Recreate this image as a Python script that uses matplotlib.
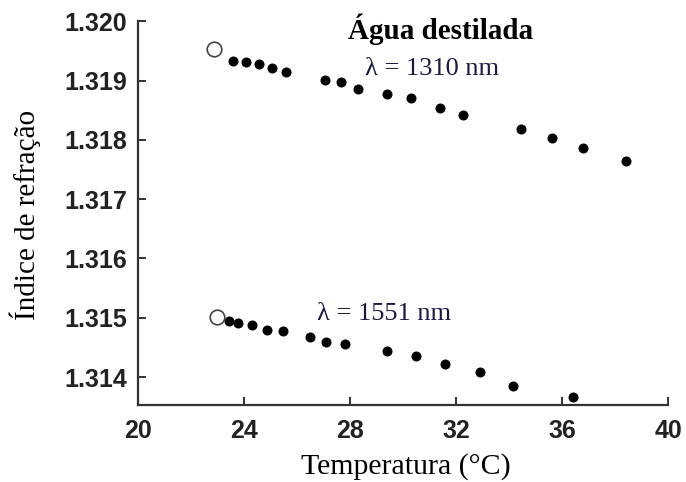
import matplotlib.pyplot as plt

# lambda = 1310 nm
t_1310 = [23.58, 24.08, 24.57, 25.06, 25.58, 27.06, 27.66, 28.30, 29.40, 30.30,
          31.40, 32.26, 34.45, 35.62, 36.79, 38.42]
n_1310 = [1.31933, 1.31931, 1.31928, 1.31921, 1.31914, 1.31901, 1.31897, 1.31886,
          1.31877, 1.31871, 1.31854, 1.31842, 1.31818, 1.31803, 1.31787, 1.31765]
# lambda = 1551 nm
t_1551 = [23.43, 23.77, 24.30, 24.87, 25.47, 26.49, 27.09, 27.81, 29.40, 30.49,
          31.58, 32.91, 34.15, 36.42]
n_1551 = [1.31494, 1.31491, 1.31487, 1.31479, 1.31477, 1.31467, 1.31459, 1.31455,
          1.31444, 1.31435, 1.31422, 1.31408, 1.31385, 1.31366]
# open circles (first reading)
t_open = [22.87, 22.98]
n_open = [1.31953, 1.31501]

xticks = [20, 24, 28, 32, 36, 40]
yticks = [1.314, 1.315, 1.316, 1.317, 1.318, 1.319, 1.320]

fig = plt.figure(figsize=(6.86, 4.82), dpi=100)
ax = fig.add_axes([0.201, 0.160, 0.773, 0.796])

ax.plot(t_1310, n_1310, 'o', color='black', markersize=6.2)
ax.plot(t_1551, n_1551, 'o', color='black', markersize=6.2)
ax.plot(t_open, n_open, 'o', mfc='white', mec='#444444', mew=1.2, markersize=10.5)

ax.set_xlim(20, 40)
ax.set_ylim(1.31353, 1.320)
ax.set_xticks(xticks)
ax.set_yticks(yticks)
ax.set_xticklabels([str(v) for v in xticks])
ax.set_yticklabels(['%.3f' % v for v in yticks])

for s in ['top', 'right']:
    ax.spines[s].set_visible(False)
for s in ['left', 'bottom']:
    ax.spines[s].set_linewidth(1.6)
    ax.spines[s].set_color('#333333')
ax.tick_params(direction='in', length=6, width=1.4, color='#333333')
ax.tick_params(axis='y', pad=8)
ax.tick_params(axis='x', pad=10)
for lab in ax.get_xticklabels() + ax.get_yticklabels():
    lab.set_family('Liberation Sans')
    lab.set_fontweight('bold')
    lab.set_fontsize(18)
    lab.set_color('#222222')

ax.set_xlabel('Temperatura (°C)', family='Liberation Serif', fontsize=21.5)
ax.set_ylabel('Índice de refração', family='Liberation Serif', fontsize=21)
ax.xaxis.set_label_coords(0.506, -0.125)
ax.yaxis.set_label_coords(-0.182, 0.494)

ax.text(31.4, 1.31986, 'Água destilada', family='Liberation Serif', fontweight='bold',
        fontsize=21, ha='center', va='center')
ax.text(31.1, 1.31920, 'λ = 1310 nm', family='Liberation Serif', fontsize=19,
        ha='center', va='center', color='#1a1a40')
ax.text(29.3, 1.31507, 'λ = 1551 nm', family='Liberation Serif', fontsize=19,
        ha='center', va='center', color='#1a1a40')

fig.savefig('out.png', dpi=100)
